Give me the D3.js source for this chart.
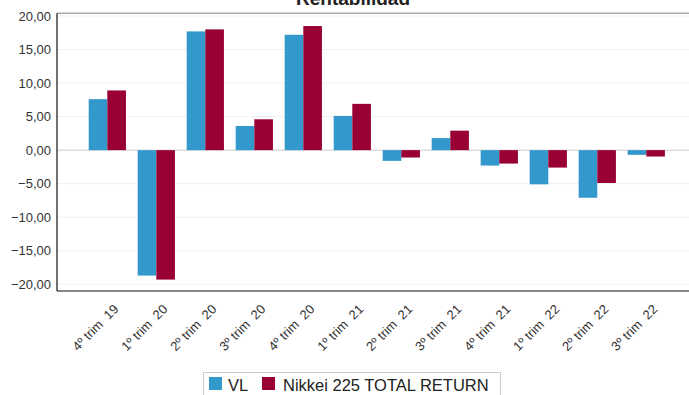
<!DOCTYPE html>
<html>
<head>
<meta charset="utf-8">
<script src="https://cdn.jsdelivr.net/npm/d3@7"></script>
<style>
  html, body { margin: 0; padding: 0; background: #fff; }
  svg { display: block; font-family: "Liberation Sans", Arial, sans-serif; }
</style>
</head>
<body>
<svg id="chart" width="689" height="395"></svg>
<script>
// Quarterly returns (%)
const categories = ["4º trim  19", "1º trim  20", "2º trim  20", "3º trim  20", "4º trim  20", "1º trim  21",
                    "2º trim  21", "3º trim  21", "4º trim  21", "1º trim  22", "2º trim  22", "3º trim  22"];
const seriesNames = ["VL", "Nikkei 225 TOTAL RETURN"];
const vlValues     = [7.6, -18.7, 17.7, 3.6, 17.2, 5.1, -1.6, 1.8, -2.3, -5.1, -7.1, -0.7];
const nikkeiValues = [8.9, -19.3, 18.0, 4.6, 18.5, 6.9, -1.1, 2.9, -2.0, -2.6, -4.9, -0.95];
const yTicks = [-20, -15, -10, -5, 0, 5, 10, 15, 20];
const colors = ["#3399cc", "#990033"];

const svg = d3.select("#chart");
const W = 689;
const plot = { left: 57, top: 13.3, bottom: 291 };

const y = d3.scaleLinear().domain([-21, 20.4]).range([plot.bottom, plot.top]);
const x0 = d3.scaleBand().domain(categories).range([plot.left, 696.6])
  .paddingInner(0.24).paddingOuter(0.647);
const x1 = d3.scaleBand().domain(seriesNames).range([0, x0.bandwidth()]);

// Title (sits mostly above the visible area)
svg.append("text").attr("x", 353).attr("y", 5)
  .attr("text-anchor", "middle").attr("font-size", 19).attr("font-weight", "bold")
  .attr("fill", "#222").text("Rentabilidad");

// Gridlines
svg.append("g").selectAll("line").data(yTicks.filter(d => d !== 0)).join("line")
  .attr("x1", plot.left).attr("x2", W)
  .attr("y1", d => y(d)).attr("y2", d => y(d))
  .attr("stroke", "#f0f0f0").attr("stroke-width", 1);

// Top border
svg.append("line").attr("x1", plot.left).attr("x2", W)
  .attr("y1", plot.top).attr("y2", plot.top)
  .attr("stroke", "#aaa").attr("stroke-width", 1.5);

// Zero line
svg.append("line").attr("x1", plot.left).attr("x2", W)
  .attr("y1", y(0)).attr("y2", y(0))
  .attr("stroke", "#ddd").attr("stroke-width", 1.5);

// Bars
const data = categories.map((c, i) => ({ cat: c, vals: [vlValues[i], nikkeiValues[i]] }));
const groups = svg.append("g").selectAll("g").data(data).join("g")
  .attr("transform", d => `translate(${x0(d.cat)},0)`);
groups.selectAll("rect").data(d => d.vals.map((v, k) => ({ v, k })))
  .join("rect")
  .attr("x", d => x1(seriesNames[d.k]))
  .attr("width", x1.bandwidth())
  .attr("y", d => y(Math.max(0, d.v)))
  .attr("height", d => Math.abs(y(d.v) - y(0)))
  .attr("fill", d => colors[d.k]);

// Y axis labels
const yAxis = d3.axisLeft(y).tickValues(yTicks).tickSize(0).tickPadding(6)
  .tickFormat(d => d3.format(".2f")(d).replace(".", ","));
const gy = svg.append("g").attr("transform", `translate(${plot.left},0)`).call(yAxis);
gy.select(".domain").remove();
gy.selectAll("text").attr("font-size", 13).attr("fill", "#333")
  .attr("font-family", "'Liberation Sans', Arial, sans-serif");

// Axis lines
svg.append("line").attr("x1", plot.left).attr("x2", plot.left)
  .attr("y1", plot.top).attr("y2", plot.bottom).attr("stroke", "#111").attr("stroke-width", 1.2);
svg.append("line").attr("x1", plot.left).attr("x2", W)
  .attr("y1", plot.bottom).attr("y2", plot.bottom).attr("stroke", "#111").attr("stroke-width", 1.2);

// X axis labels
const xAxis = d3.axisBottom(x0).tickSize(0).tickPadding(0);
const gx = svg.append("g").attr("transform", `translate(0,${plot.bottom})`).call(xAxis);
gx.select(".domain").remove();
gx.selectAll("text")
  .attr("font-size", 13).attr("fill", "#333")
  .attr("font-family", "'Liberation Sans', Arial, sans-serif")
  .attr("text-anchor", "end")
  .attr("dy", null)
  .attr("style", "white-space:pre")
  .attr("transform", "translate(12,19) rotate(-45)");

// Legend
const lg = svg.append("g");
lg.append("rect").attr("x", 203.5).attr("y", 372.5).attr("width", 297).attr("height", 26)
  .attr("fill", "#fff").attr("stroke", "#ccc");
const items = [{ name: seriesNames[0], x: 209, tx: 228 }, { name: seriesNames[1], x: 262, tx: 283 }];
items.forEach((it, k) => {
  lg.append("rect").attr("x", it.x).attr("y", 377).attr("width", 13).attr("height", 13).attr("fill", colors[k]);
  lg.append("text").attr("x", it.tx).attr("y", 390.5).attr("font-size", 16.5).attr("fill", "#222").text(it.name);
});
</script>
</body>
</html>
